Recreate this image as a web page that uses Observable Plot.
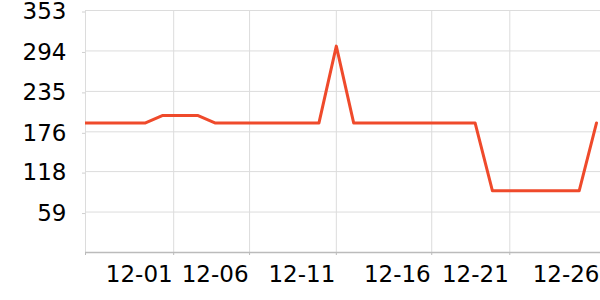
<!DOCTYPE html>
<html><head><meta charset="utf-8">
<script src="https://cdn.jsdelivr.net/npm/d3@7"></script>
<script src="https://cdn.jsdelivr.net/npm/@observablehq/plot@0.6"></script>
<style>body{margin:0;background:#fff}</style>
</head><body><div id="chart"></div>
<script>
// Daily series, 2023-11-26 .. 2023-12-26
const startDate = "2023-11-26";
const values = [189,189,189,189,189, 200,200,200, 189,189,189,189,189,189,189, 301,
  189,189,189,189,189,189,189,189, 90,90,90,90,90,90, 189];

// Axis tick values (data units) and labels
const xDomain = ["2023-11-26T13:00Z", "2023-12-26T05:30Z"];
const gridDates = ["2023-11-26T13:00Z", "2023-12-01T15:00Z", "2023-12-06T00:00Z", "2023-12-11T00:00Z", "2023-12-16T12:00Z", "2023-12-21T00:00Z"];
const labelDates = ["2023-12-01T15:00Z", "2023-12-06T00:00Z", "2023-12-11T00:00Z", "2023-12-16T12:00Z", "2023-12-21T00:00Z", "2023-12-26T05:30Z"];
const xLabels = ["12-01", "12-06", "12-11", "12-16", "12-21", "12-26"];
const yTicks = [59, 118, 176, 235, 294, 353];

const t0 = new Date(startDate + "T00:00Z");
const data = values.map((v, i) => ({date: d3.utcDay.offset(t0, i), value: v}));
const labelMap = new Map(labelDates.map((d, i) => [+new Date(d), xLabels[i]]));

const chart = Plot.plot({
  width: 600,
  height: 300,
  marginLeft: 85,
  marginRight: 0,
  marginTop: 10,
  marginBottom: 48,
  style: {fontFamily: "DejaVu Sans", fontSize: "23px", color: "#000", background: "#fff"},
  x: {type: "utc", domain: xDomain.map(d => new Date(d)), label: null},
  y: {domain: [0, 353], label: null},
  marks: [
    Plot.gridY({ticks: yTicks, stroke: "#dcdcdc", strokeOpacity: 1}),
    Plot.gridX({ticks: gridDates.map(d => new Date(d)), stroke: "#dcdcdc", strokeOpacity: 1}),
    Plot.axisY({ticks: yTicks, tickSize: 3, tickPadding: 16, dy: 1.5, stroke: "#d0d0d0", tickFormat: d => String(d), label: null}),
    Plot.ruleY([0], {stroke: "#bbbbbb", strokeWidth: 1.5}),
    Plot.axisX({ticks: gridDates.map(d => new Date(d)), tickSize: 3, stroke: "#bbbbbb", tickFormat: () => "", label: null}),
    Plot.axisX({ticks: labelDates.map(d => new Date(d)), tickSize: 0, tickPadding: 13, textAnchor: "end", dx: -1,
      tickFormat: d => labelMap.get(+d), label: null}),
    Plot.lineY(data, {x: "date", y: "value", stroke: "#ef4a2b", strokeWidth: 3, clip: true})
  ]
});
document.getElementById("chart").append(chart);
</script>
</body></html>
